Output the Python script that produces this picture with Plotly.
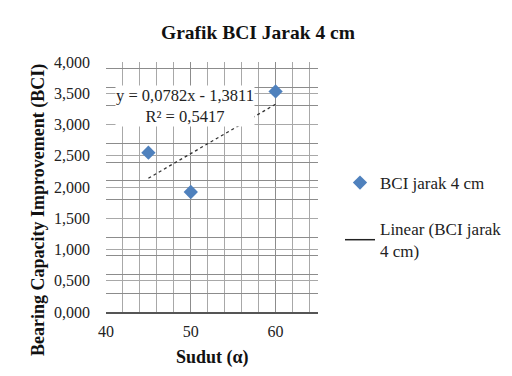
import numpy as np
import plotly.graph_objects as go

# data
sudut = [45, 50, 60]
bci = [2.55, 1.92, 3.53]
series_name = "BCI jarak 4 cm"
trend_name = "Linear (BCI jarak<br>4 cm)"
eq_text = "y = 0,0782x - 1,3811<br>R² = 0,5417"
y_ticks = [0, 0.5, 1.0, 1.5, 2.0, 2.5, 3.0, 3.5, 4.0]
y_ticklabels = ["0,000", "0,500", "1,000", "1,500", "2,000", "2,500", "3,000", "3,500", "4,000"]
x_ticks = [40, 50, 60]

font = "Liberation Serif, Times New Roman, serif"

slope, intercept = np.polyfit(sudut, bci, 1)
tx = np.array([min(sudut), max(sudut)])
ty = slope * tx + intercept

# page has an 8px body margin; figure coords = page coords - 8
OFF = 8
W, H = 512 - OFF, 376 - OFF
L, R, T, B = 106 - OFF, 318 - OFF, 62 - OFF, 312 - OFF


def px(xp):
    return (xp - OFF - L) / (R - L)


def py(yp):
    return (B - (yp - OFF)) / (B - T)


fig = go.Figure()
fig.add_trace(go.Scatter(
    x=sudut, y=bci, mode="markers", name=series_name,
    marker=dict(symbol="diamond", size=11, color="#4F81BD"),
    legendgroup="a"))
fig.add_trace(go.Scatter(
    x=tx, y=ty, mode="lines", showlegend=False,
    line=dict(color="#333333", width=1.3, dash="dot")))
fig.add_trace(go.Scatter(
    x=[None], y=[None], mode="lines", name=trend_name,
    line=dict(color="#222222", width=1.5), legendgroup="b"))

# trendline label
fig.add_annotation(x=px(185), y=py(106), xref="paper", yref="paper",
                   text=eq_text, showarrow=False, xanchor="center", yanchor="middle",
                   align="center", bgcolor="white", borderpad=0,
                   font=dict(family=font, size=16.5, color="#222"))
# y axis title
fig.add_annotation(x=px(38), y=py(210), xref="paper", yref="paper",
                   text="<b>Bearing Capacity Improvement (BCI)</b>", textangle=-90,
                   showarrow=False, xanchor="center", yanchor="middle",
                   font=dict(family=font, size=18, color="#111"))
# x axis title
fig.add_annotation(x=px(212), y=py(357), xref="paper", yref="paper",
                   text="<b>Sudut (α)</b>",
                   showarrow=False, xanchor="center", yanchor="middle",
                   font=dict(family=font, size=18, color="#111"))

fig.update_layout(
    width=W, height=H,
    margin=dict(l=L, r=W - R, t=T, b=H - B, autoexpand=False),
    paper_bgcolor="white", plot_bgcolor="white",
    title=dict(text="<b>Grafik BCI Jarak 4 cm</b>", x=(258 - OFF) / W, xanchor="center",
               y=1 - (32 - OFF) / H, yanchor="middle",
               font=dict(family=font, size=19.5, color="#111")),
    font=dict(family=font, size=16, color="#222"),
    legend=dict(x=px(340), y=py(165), xanchor="left", yanchor="top",
                font=dict(family=font, size=17, color="#222"),
                traceorder="grouped", tracegroupgap=21,
                bgcolor="rgba(0,0,0,0)"),
    showlegend=True,
)
fig.update_xaxes(
    range=[40, 65], tickvals=x_ticks, ticks="", showline=True,
    linecolor="#555", linewidth=1.5, automargin=False,
    showgrid=True, gridcolor="#8c8c8c", gridwidth=1,
    minor=dict(dtick=2, tick0=40, showgrid=True, gridcolor="#a8a8a8", gridwidth=1),
    zeroline=False, tickfont=dict(family=font, size=16, color="#222"),
    ticklabelstandoff=4,
)
fig.update_yaxes(
    range=[0, 4], tickvals=y_ticks, ticktext=y_ticklabels, ticks="",
    showline=False, showgrid=True, gridcolor="#a8a8a8", gridwidth=1, automargin=False,
    minor=dict(dtick=0.3, tick0=0, showgrid=True, gridcolor="#8c8c8c", gridwidth=1),
    zeroline=False, tickfont=dict(family=font, size=16, color="#222"),
    ticklabelstandoff=15,
)

fig.write_html("out.html")
